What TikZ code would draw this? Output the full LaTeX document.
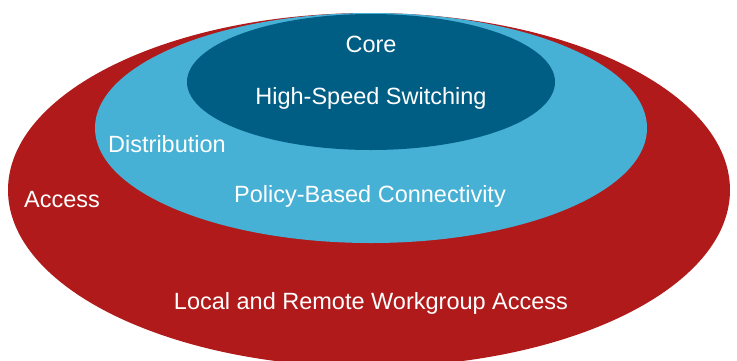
\documentclass[tikz,border=0pt]{standalone}
\usepackage{fontspec}
\setmainfont{Liberation Sans}
\definecolor{accessred}{RGB}{176,26,26}
\definecolor{distblue}{RGB}{70,176,213}
\definecolor{coreblue}{RGB}{0,94,133}
\begin{document}
\begin{tikzpicture}[x=1pt,y=-1pt,
  lbl/.style={text=white,anchor=base,inner sep=0pt,font=\fontsize{23.5}{28}\selectfont}]
\useasboundingbox (0,0) rectangle (737,360);
\clip (0,0) rectangle (737,360);
\fill[accessred] (369,190) ellipse [x radius=361, y radius=177];
\fill[distblue] (371,128) ellipse [x radius=276, y radius=115];
\fill[coreblue] (371,82) ellipse [x radius=184, y radius=68];
\node[lbl] (core) at (371,52) {Core};
\node[lbl] (hss) at (371,104) {High-Speed Switching};
\node[lbl] (dist) at (167,152) {Distribution};
\node[lbl] (pbc) at (370,202) {Policy-Based Connectivity};
\node[lbl] (acc) at (62,207) {Access};
\node[lbl] (lrwa) at (371,309) {Local and Remote Workgroup Access};
\end{tikzpicture}
\end{document}
